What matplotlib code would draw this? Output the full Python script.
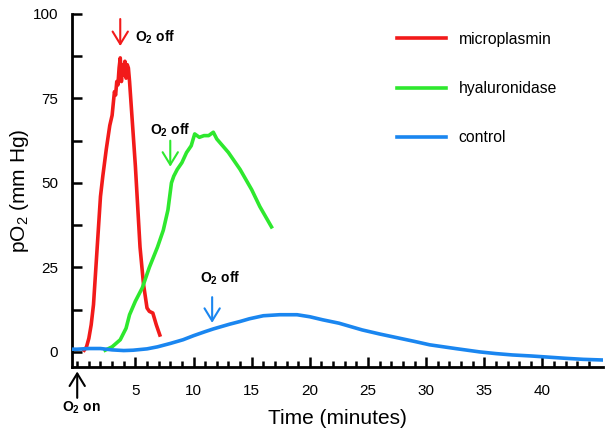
import numpy as np
import matplotlib
matplotlib.use('Agg')
import matplotlib.pyplot as plt
from matplotlib.ticker import MultipleLocator

plt.rcParams['font.family'] = ['Liberation Sans', 'DejaVu Sans']
plt.rcParams['mathtext.fontset'] = 'custom'
plt.rcParams['mathtext.rm'] = 'Liberation Sans'
plt.rcParams['mathtext.bf'] = 'Liberation Sans:bold'
plt.rcParams['mathtext.default'] = 'regular'

# microplasmin
micro_t = [0.6, 0.8, 1.0, 1.2, 1.4, 1.7, 2.0, 2.2, 2.5, 2.8, 3.0, 3.2, 3.3, 3.4,
           3.5, 3.6, 3.7, 3.8, 3.9, 4.0, 4.1, 4.2, 4.3, 4.4, 4.5, 4.7, 5.0, 5.4,
           5.7, 6.0, 6.2, 6.5, 6.8, 7.1]
micro_p = [0.5, 1.5, 4, 8, 14, 30, 46, 52, 60, 67, 70, 77, 76, 80, 79, 84, 87,
           80, 85, 82, 86, 81, 85, 84, 80, 70, 55, 31, 20, 13, 12, 11.5, 8, 5]

# hyaluronidase
hyal_t = [2.4, 3.0, 3.7, 4.2, 4.5, 5.0, 5.6, 6.2, 6.9, 7.4, 7.8, 8.1, 8.3, 8.6,
          9.0, 9.4, 9.8, 10.1, 10.5, 10.9, 11.3, 11.7, 12.0, 12.5, 13.0, 14.0,
          15.0, 15.7, 16.2, 16.7]
hyal_p = [0.5, 1.5, 3.6, 7, 11, 15, 19, 25, 31, 36, 42, 50, 52, 54, 56, 59, 61,
          64.5, 63.5, 64, 64, 65, 63, 61, 59, 54, 48, 43, 40, 37]

# control
ctrl_t = [-0.4, 0, 1, 2, 3, 4, 4.8, 6, 6.9, 8, 9.1, 10, 11, 11.7, 12.5, 13.1, 14,
          14.8, 16, 17.4, 18.9, 20, 21.1, 22.5, 24.5, 26, 27.5, 29, 30.3, 32.5,
          34.6, 36, 37.4, 39, 40.3, 42, 43.5, 45.2]
ctrl_p = [0.8, 0.8, 1, 1, 0.6, 0.4, 0.5, 0.9, 1.5, 2.5, 3.6, 4.8, 6, 6.8, 7.6, 8.2,
          9, 9.8, 10.7, 11, 11, 10.4, 9.5, 8.5, 6.5, 5.3, 4.2, 3.1, 2.1, 1, 0,
          -0.5, -0.9, -1.2, -1.5, -1.9, -2.2, -2.4]

red = '#f21a1a'
green = '#2ee82e'
blue = '#1a86f0'

fig = plt.figure(figsize=(6.1, 4.36), dpi=100)
ax = fig.add_axes([0.118, 0.158, 0.8705, 0.81])

ax.plot(micro_t, micro_p, color=red, lw=2.6, label='microplasmin', zorder=3)
ax.plot(hyal_t, hyal_p, color=green, lw=2.6, label='hyaluronidase', zorder=3)
ax.plot(ctrl_t, ctrl_p, color=blue, lw=2.6, label='control', zorder=4)

ax.set_xlim(-0.45, 45.2)
ax.set_ylim(-4.5, 100)

for s in ['top', 'right']:
    ax.spines[s].set_visible(False)
for s in ['left', 'bottom']:
    ax.spines[s].set_linewidth(2)

ax.yaxis.set_major_locator(MultipleLocator(25))
ax.yaxis.set_minor_locator(MultipleLocator(12.5))
ax.tick_params(which='both', direction='in', width=1.8, labelsize=11)
ax.tick_params(axis='x', which='major', length=7, pad=12)
ax.tick_params(axis='x', which='minor', length=4.5)
ax.tick_params(axis='y', which='both', length=7, pad=10)
ax.set_xticks([5, 10, 15, 20, 25, 30, 35, 40])
ax.set_xticklabels(['5', '10', '15', '20', '25', '30', '35', '40'])
ax.set_xticks(np.arange(0, 45, 1), minor=True)

ax.set_xlabel('Time (minutes)', fontsize=15, labelpad=8)
ax.set_ylabel('pO$_2$ (mm Hg)', fontsize=15, labelpad=1.5)

off = r'$\mathbf{O_2}$ off'
akw = dict(arrowstyle='->,head_length=0.9,head_width=0.55', lw=1.5,
           shrinkA=0, shrinkB=0)
ax.annotate('', xy=(3.7, 90.5), xytext=(3.7, 98.5),
            arrowprops=dict(color=red, **akw))
ax.text(5.0, 93, off, fontsize=10, fontweight='bold', va='center', ha='left')
ax.annotate('', xy=(8.0, 54.8), xytext=(8.0, 62.5),
            arrowprops=dict(color=green, **akw))
ax.text(8.0, 65.5, off, fontsize=10, fontweight='bold', va='center', ha='center')
ax.annotate('', xy=(11.6, 8.6), xytext=(11.6, 16.2),
            arrowprops=dict(color=blue, **akw))
ax.text(12.3, 21.7, off, fontsize=10, fontweight='bold', va='center', ha='center')
ax.annotate('', xy=(0, -5.8), xytext=(0, -13.6), annotation_clip=False,
            arrowprops=dict(color='black', **akw))
ax.text(0.35, -16.6, r'$\mathbf{O_2}$ on', fontsize=10, fontweight='bold',
        va='center', ha='center', clip_on=False)

ax.legend(loc='upper left', bbox_to_anchor=(0.612, 0.949), frameon=False,
          borderpad=0, borderaxespad=0,
          fontsize=11.3, handlelength=3.1, handletextpad=0.83, labelspacing=2.17)

fig.savefig('out.png', dpi=100)
